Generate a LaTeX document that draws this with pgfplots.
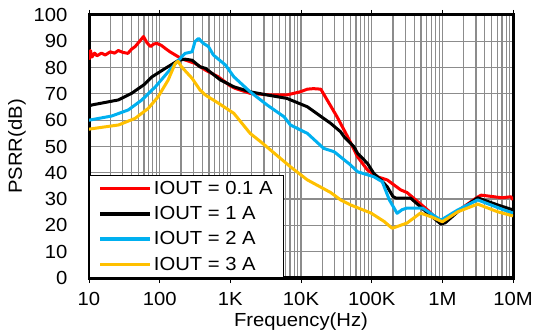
\documentclass[border=0pt]{standalone}
\usepackage{fontspec}
\setmainfont{Liberation Sans}[FakeStretch=1.07]
\usepackage{pgfplots}
\pgfplotsset{compat=1.18}
\definecolor{cRed}{RGB}{255,0,0}
\definecolor{cBlue}{RGB}{0,176,240}
\definecolor{cYel}{RGB}{255,192,0}
\definecolor{cGrid}{RGB}{140,140,140}
\newcommand{\ff}{\fontsize{19}{22}\selectfont}
\begin{document}
\begin{tikzpicture}
\useasboundingbox (-89bp,-56bp) rectangle (445bp,278bp);
\begin{axis}[
  at={(0,0)}, anchor=south west,
  scale only axis, width=424bp, height=263bp,
  xmode=log, xmin=10, xmax=1e7, ymin=0, ymax=100,
  xtick={10,100,1000,10000,100000,1000000,10000000},
  xticklabels={10,100,1K,10K,100K,1M,10M},
  ytick={0,10,...,100},
  /pgf/number format/assume math mode=true,
  grid=both,
  major grid style={cGrid, line width=1.2bp},
  minor grid style={cGrid, line width=1.2bp},
  axis line style={black, line width=3bp},
  xtick style={black, line width=1bp},
  ytick style={draw=none},
  minor tick style={draw=none},
  tick align=outside,
  major tick length=5bp,
  tick label style={font=\ff},
  yticklabel style={xshift=-13bp},
  xticklabel style={yshift=-6bp},
  xlabel={Frequency(Hz)},
  ylabel={PSRR(dB)},
  label style={font=\ff},
  xlabel style={at={(axis description cs:0.5,-0.167)}, anchor=center},
  ylabel style={at={(axis description cs:-0.170,0.5)}, anchor=center},
  legend style={at={(0,0)}, anchor=south west, fill=white, draw=black,
    line width=0.8bp, font=\ff, row sep=6.5bp, inner xsep=9bp, inner ysep=4bp},
  legend cell align=left,
  legend image code/.code={\draw[#1, line width=3.5bp] (0bp,0bp) -- (50bp,0bp);},
  every axis plot/.append style={line width=3bp, line join=round},
]
\addplot[cRed] coordinates {
(10,83) (10.5,86.5) (11,84) (12,85.5) (13,84.5) (15,85.5) (17,84.8) (20,86)
(23,85.5) (26,86.5) (30,85.8) (35.5,85.4) (40,87) (45,88) (52,90) (59,91.8)
(66,89.5) (74,88) (83,89) (91,89.2) (105,88.5) (120,87.3) (140,86) (166,84.8)
(200,83.5) (229,82.9) (316,81.6) (447,79) (676,76.5) (1000,73) (1175,72.1)
(1905,70.2) (3715,69.6) (6310,69.6) (9772,70.8) (12303,71.8) (15000,72)
(19055,71.8) (23442,67.7) (32359,61.3) (45709,53.7) (63096,46.1) (87096,41.1)
(120226,38.5) (165959,37.3) (257040,33.5) (316228,32.5) (616595,25.9)
(800000,23) (954993,21) (1100000,21.3) (1659587,25.5) (3162278,30.8)
(3548134,31.5) (5000000,31) (7000000,30.5) (9332543,30.9) (10000000,29.7)
};
\addlegendentry{IOUT = 0.1 A}
\addplot[black] coordinates {
(10,65.4) (11,65.8) (26,67.7) (40,70.2) (60,73.5) (78,76.5) (120,79.7)
(186,82.8) (229,83.2) (288,82.8) (372,80.3) (447,79.7) (724,75.3) (1000,73.4)
(1122,72.7) (1905,70.8) (3311,69.6) (6310,68.3) (12303,65.1) (20893,60.7)
(26303,58.8) (36308,55.6) (40738,53.7) (56234,49.9) (63096,47.4) (87096,43.6)
(107152,39.8) (134896,37.3) (165959,34.7) (200000,31) (218776,30.4)
(354813,30.4) (588844,25.2) (954993,20.5) (1100000,21) (1659587,25.2)
(3162278,30.5) (6025596,27.8) (10000000,25.9)
};
\addlegendentry{IOUT = 1 A}
\addplot[cBlue] coordinates {
(10,60) (21,61.6) (36,63.9) (56,67.7) (87,72.7) (132,78.4) (186,82.9)
(229,85.4) (288,86) (316,89.9) (355,91.1) (417,89.2) (490,88) (575,84.8)
(851,81) (1122,76.5) (1905,70.8) (3311,65.8) (5754,61.3) (7079,58.2)
(9772,56.3) (12303,55) (20893,49.3) (29512,48) (50119,43) (63096,40.4)
(107152,38.5) (141254,36.6) (177828,29.7) (229087,24.6) (270000,26)
(316228,26.6) (524807,26.6) (954993,22) (1659587,25.9) (3162278,29.7)
(7413102,25.9) (10000000,24.7)
};
\addlegendentry{IOUT = 2 A}
\addplot[cYel] coordinates {
(10,56.6) (26.3,58.2) (45,60.7) (69,64.5) (95,68.9) (132,75.3) (166,81.6)
(182,82.4) (204,80.3) (288,75.9) (372,71.5) (447,69.5) (676,66.5)
(1122,62.6) (1905,55) (2692,51.8) (7079,42.3) (12303,37.3) (26303,32.5)
(36308,29.7) (50119,27.8) (97724,24.7) (150000,21.5) (194984,18.9)
(316228,20.9) (489779,24.7) (691831,23.3) (1000000,21.4) (1659587,25.2)
(3162278,28.1) (6025596,25.2) (10000000,23.6)
};
\addlegendentry{IOUT = 3 A}
\end{axis}
\end{tikzpicture}
\end{document}
